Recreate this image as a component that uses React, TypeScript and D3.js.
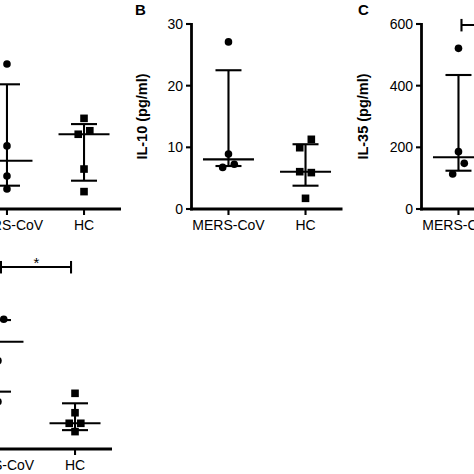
import React from "react";
import * as d3 from "d3";

// ---------- data ----------
const categories = ["MERS-CoV", "HC"];

// Panel A (its y axis lies outside the crop; values in relative units 0-100)
const aMersValues = [78.4, 34.1, 17.8, 10.8];
const aMersSide = [0, 0, 0, 0];
const aHcValues = [49.0, 40.4, 42.3, 21.6, 9.4];
const aHcSide = [0, -1, 1, 0, 0];
const aMedian = [26.1, 40.4];
const aUpper = [67.4, 45.9];
const aLower = [12.6, 15.3];

// Panel B: IL-10 (pg/ml)
const bTicks = [0, 10, 20, 30];
const bMersValues = [27.1, 8.9, 7.25, 6.75];
const bMersSide = [0, 0, 1, -1];
const bHcValues = [11.3, 9.94, 6.05, 5.9, 1.73];
const bHcSide = [1, -1, -1, 1, 0];
const bMedian = [8.05, 6.05];
const bUpper = [22.5, 10.5];
const bLower = [6.97, 3.78];

// Panel C: IL-35 (pg/ml)
const cTicks = [0, 200, 400, 600];
const cMersValues = [521, 186, 148, 113.5];
const cMersSide = [0, 0, 1, -1];
const cHcValues: number[] = [];
const cHcSide: number[] = [];
const cMedian = [167.7, NaN];
const cUpper = [434.6, NaN];
const cLower = [124.2, NaN];
const cSigLevel = 597;

// Panel D (y axis outside the crop; relative units 0-100)
const dMersValues = [70.1, 47.7, 25.6];
const dMersSide = [1, 0, 0];
const dHcValues = [30.1, 19.6, 13.9, 13.9, 9.4];
const dHcSide = [0, 0, -1, 1, 0];
const dMedian = [58.0, 13.9];
const dUpper = [69.7, 24.7];
const dLower = [31.0, 10.2];
const dSigLevel = 98.4;

// ---------- drawing ----------
const FONT = "'Liberation Sans', Arial, Helvetica, sans-serif";
const AXIS_W = 151;
const SPREAD = 5.8;
const CAP_HALF = 13;
const MED_HALF = 25.5;

type PanelProps = {
  axisX: number;
  axisY: number;
  yTop: number;
  domain: [number, number];
  ticks: number[];
  title: string;
  titleOffset: number;
  letter: string;
  letterOffset: number;
  mers: number[];
  mersSide: number[];
  hc: number[];
  hcSide: number[];
  median: number[];
  upper: number[];
  lower: number[];
  sig?: number;
};

function Panel(p: PanelProps) {
  const x = d3
    .scalePoint<string>()
    .domain(categories)
    .range([p.axisX, p.axisX + AXIS_W])
    .padding(0.48);
  const y = d3.scaleLinear().domain(p.domain).range([p.axisY, p.yTop]);
  const groups = [
    { cat: categories[0], values: p.mers, side: p.mersSide, shape: "circle" },
    { cat: categories[1], values: p.hc, side: p.hcSide, shape: "square" },
  ];
  const midY = (p.axisY + p.yTop) / 2;
  return (
    <g>
      {p.letter && (
        <text
          x={p.axisX + p.letterOffset}
          y={p.yTop - 9.5}
          fontFamily={FONT}
          fontWeight="bold"
          fontSize={15}
        >
          {p.letter}
        </text>
      )}
      {/* y axis */}
      <line x1={p.axisX} x2={p.axisX} y1={y(p.domain[0]) + 1.4} y2={y(p.domain[1]) - 1} stroke="#000" strokeWidth={2.8} />
      {p.ticks.map((t) => (
        <g key={t}>
          <line x1={p.axisX - 5.5} x2={p.axisX} y1={y(t)} y2={y(t)} stroke="#000" strokeWidth={2.1} />
          <text
            x={p.axisX - 8.5}
            y={y(t)}
            dy="0.36em"
            textAnchor="end"
            fontFamily={FONT}
            fontSize={14}
          >
            {t}
          </text>
        </g>
      ))}
      {p.title && (
        <text
          transform={`translate(${p.axisX + p.titleOffset},${midY}) rotate(-90)`}
          textAnchor="middle"
          dy="0.36em"
          fontFamily={FONT}
          fontWeight="bold"
          fontSize={14.5}
        >
          {p.title}
        </text>
      )}
      {/* x axis */}
      <line x1={p.axisX - 1.4} x2={p.axisX + AXIS_W} y1={p.axisY} y2={p.axisY} stroke="#000" strokeWidth={2.8} />
      {categories.map((c) => (
        <g key={c}>
          <line x1={x(c)} x2={x(c)} y1={p.axisY} y2={p.axisY + 6} stroke="#000" strokeWidth={2.1} />
          <text
            x={x(c)}
            y={p.axisY + 21}
            textAnchor="middle"
            fontFamily={FONT}
            fontSize={14}
          >
            {c}
          </text>
        </g>
      ))}
      {/* median and interquartile bars */}
      {categories.map((c, i) => {
        const cx = x(c) as number;
        if (isNaN(p.median[i])) return null;
        return (
          <g key={"eb" + c} stroke="#000" strokeWidth={2.1}>
            <line x1={cx} x2={cx} y1={y(p.upper[i])} y2={y(p.lower[i])} />
            <line x1={cx - CAP_HALF} x2={cx + CAP_HALF} y1={y(p.upper[i])} y2={y(p.upper[i])} />
            <line x1={cx - CAP_HALF} x2={cx + CAP_HALF} y1={y(p.lower[i])} y2={y(p.lower[i])} />
            <line x1={cx - MED_HALF} x2={cx + MED_HALF} y1={y(p.median[i])} y2={y(p.median[i])} />
          </g>
        );
      })}
      {/* points */}
      {groups.map((g) =>
        g.values.map((v, j) => {
          const cx = (x(g.cat) as number) + g.side[j] * SPREAD;
          const cy = y(v);
          return g.shape === "circle" ? (
            <circle key={g.cat + j} cx={cx} cy={cy} r={3.8} fill="#000" />
          ) : (
            <rect key={g.cat + j} x={cx - 3.8} y={cy - 3.8} width={7.6} height={7.6} fill="#000" />
          );
        })
      )}
      {/* significance bar */}
      {p.sig !== undefined && (
        <g stroke="#000" strokeWidth={2.1}>
          <line
            x1={(x(categories[0]) as number) + 3}
            x2={(x(categories[1]) as number) - 4}
            y1={y(p.sig)}
            y2={y(p.sig)}
          />
          <line
            x1={(x(categories[0]) as number) + 3}
            x2={(x(categories[0]) as number) + 3}
            y1={y(p.sig) - 6}
            y2={y(p.sig) + 6.5}
          />
          <line
            x1={(x(categories[1]) as number) - 4}
            x2={(x(categories[1]) as number) - 4}
            y1={y(p.sig) - 6}
            y2={y(p.sig) + 6.5}
          />
          <text
            x={((x(categories[0]) as number) + (x(categories[1]) as number)) / 2}
            y={y(p.sig) + 1}
            textAnchor="middle"
            stroke="none"
            fill="#000"
            fontFamily={FONT}
            fontSize={15}
          >
            *
          </text>
        </g>
      )}
    </g>
  );
}

export default function App() {
  return (
    <svg
      width={474}
      height={474}
      viewBox="0 0 474 474"
      style={{ position: "fixed", left: 0, top: 0, background: "#fff" }}
    >
      <rect x={0} y={0} width={474} height={474} fill="#fff" />
      <Panel
        axisX={-30}
        axisY={209}
        yTop={24}
        domain={[0, 100]}
        ticks={[]}
        title=""
        titleOffset={-50}
        letter=""
        letterOffset={-57}
        mers={aMersValues}
        mersSide={aMersSide}
        hc={aHcValues}
        hcSide={aHcSide}
        median={aMedian}
        upper={aUpper}
        lower={aLower}
      />
      <Panel
        axisX={191.5}
        axisY={209}
        yTop={24}
        domain={[0, 30]}
        ticks={bTicks}
        title="IL-10 (pg/ml)"
        titleOffset={-50}
        letter="B"
        letterOffset={-56.5}
        mers={bMersValues}
        mersSide={bMersSide}
        hc={bHcValues}
        hcSide={bHcSide}
        median={bMedian}
        upper={bUpper}
        lower={bLower}
      />
      <Panel
        axisX={421.5}
        axisY={209}
        yTop={24}
        domain={[0, 600]}
        ticks={cTicks}
        title="IL-35 (pg/ml)"
        titleOffset={-58.5}
        letter="C"
        letterOffset={-63.5}
        mers={cMersValues}
        mersSide={cMersSide}
        hc={cHcValues}
        hcSide={cHcSide}
        median={cMedian}
        upper={cUpper}
        lower={cLower}
        sig={cSigLevel}
      />
      <Panel
        axisX={-39}
        axisY={449}
        yTop={264}
        domain={[0, 100]}
        ticks={[]}
        title=""
        titleOffset={-50}
        letter=""
        letterOffset={-57}
        mers={dMersValues}
        mersSide={dMersSide}
        hc={dHcValues}
        hcSide={dHcSide}
        median={dMedian}
        upper={dUpper}
        lower={dLower}
        sig={dSigLevel}
      />
    </svg>
  );
}
